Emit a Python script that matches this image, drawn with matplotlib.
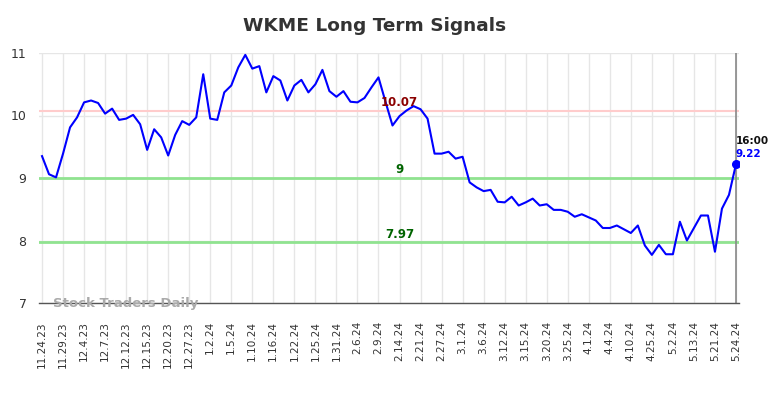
import matplotlib
matplotlib.use("Agg")
import matplotlib.pyplot as plt
import numpy as np

tick_labels = ["11.24.23", "11.29.23", "12.4.23", "12.7.23", "12.12.23", "12.15.23",
               "12.20.23", "12.27.23", "1.2.24", "1.5.24", "1.10.24", "1.16.24",
               "1.22.24", "1.25.24", "1.31.24", "2.6.24", "2.9.24", "2.14.24",
               "2.21.24", "2.27.24", "3.1.24", "3.6.24", "3.12.24", "3.15.24",
               "3.20.24", "3.25.24", "4.1.24", "4.4.24", "4.10.24", "4.25.24",
               "5.2.24", "5.13.24", "5.21.24", "5.24.24"]

values = [9.35, 9.06, 9.01, 9.39, 9.81, 9.97, 10.21, 10.24, 10.20, 10.03,
          10.11, 9.93, 9.95, 10.01, 9.86, 9.45, 9.78, 9.65, 9.36, 9.69,
          9.91, 9.85, 9.97, 10.66, 9.95, 9.93, 10.37, 10.48, 10.77, 10.97,
          10.75, 10.79, 10.37, 10.63, 10.56, 10.24, 10.48, 10.57, 10.37, 10.50,
          10.73, 10.39, 10.30, 10.39, 10.22, 10.21, 10.28, 10.45, 10.61, 10.22,
          9.84, 9.99, 10.08, 10.15, 10.10, 9.95, 9.39, 9.39, 9.42, 9.31,
          9.34, 8.93, 8.85, 8.79, 8.81, 8.62, 8.61, 8.70, 8.56, 8.61,
          8.67, 8.56, 8.58, 8.49, 8.49, 8.46, 8.38, 8.42, 8.37, 8.32,
          8.20, 8.20, 8.24, 8.18, 8.12, 8.24, 7.92, 7.77, 7.93, 7.78,
          7.78, 8.30, 8.00, 8.20, 8.40, 8.40, 7.82, 8.51, 8.73, 9.22]

resistance = 10.07
support_levels = [9.0, 7.97]
last_time = "16:00"

fig = plt.figure(figsize=(7.84, 3.98), dpi=100)
ax = fig.add_axes([39/784, 1-303/398, 700/784, 250/398])

x = np.arange(len(values))
ticks = x[::3]

ax.set_xlim(-0.43, len(values) - 1 + 0.43)
ax.set_ylim(7, 11)
ax.set_yticks([7, 8, 9, 10, 11])
ax.set_xticks(ticks)
ax.set_xticklabels(tick_labels, rotation=90, fontsize=7.6, color="#333333")
ax.tick_params(axis="x", length=0, pad=13)
ax.tick_params(axis="y", length=0, pad=9, labelsize=9, labelcolor="#333333")

ax.grid(True, color="#e6e6e6", linewidth=1)
ax.set_axisbelow(True)
for s in ["top", "right", "left"]:
    ax.spines[s].set_visible(False)
ax.spines["bottom"].set_color("#555555")
ax.spines["bottom"].set_linewidth(1)

ax.axhline(resistance, color="#ffcccc", linewidth=1.5, zorder=2)
for lv in support_levels:
    ax.axhline(lv, color="#90e390", linewidth=2, zorder=2)

ax.axvline(x[-1], color="#888888", linewidth=1.2, zorder=2)

ax.plot(x, values, color="#0000ff", linewidth=1.5, zorder=3)
ax.plot([x[-1]], [values[-1]], "o", color="#0000ff", markersize=5.5, zorder=4)

mid = 51
ax.text(mid, resistance + 0.03, f"{resistance:.2f}", color="#8b0000", fontsize=8.5,
        fontweight="bold", ha="center", va="bottom")
ax.text(mid, support_levels[0] + 0.03, "9", color="#006400", fontsize=8.5,
        fontweight="bold", ha="center", va="bottom")
ax.text(mid, support_levels[1] + 0.03, f"{support_levels[1]:.2f}", color="#006400",
        fontsize=8.5, fontweight="bold", ha="center", va="bottom")

ax.annotate(last_time, xy=(x[-1], values[-1]), xytext=(0, 13.5), textcoords="offset points",
            fontsize=7.5, fontweight="bold", color="#111111", ha="left", va="bottom")
ax.annotate(f"{values[-1]:.2f}", xy=(x[-1], values[-1]), xytext=(0, 3.5), textcoords="offset points",
            fontsize=7.5, fontweight="bold", color="#0000ff", ha="left", va="bottom")

ax.text(0.02, 0.0, "Stock Traders Daily", transform=ax.transAxes, fontsize=9.5,
        fontweight="bold", color="#aaaaaa", ha="left", va="center")

fig.text(375/784, 1-26/398, "WKME Long Term Signals", ha="center", va="center",
         fontsize=13.3, fontweight="bold", color="#333333")

fig.savefig("out.png", dpi=100)
